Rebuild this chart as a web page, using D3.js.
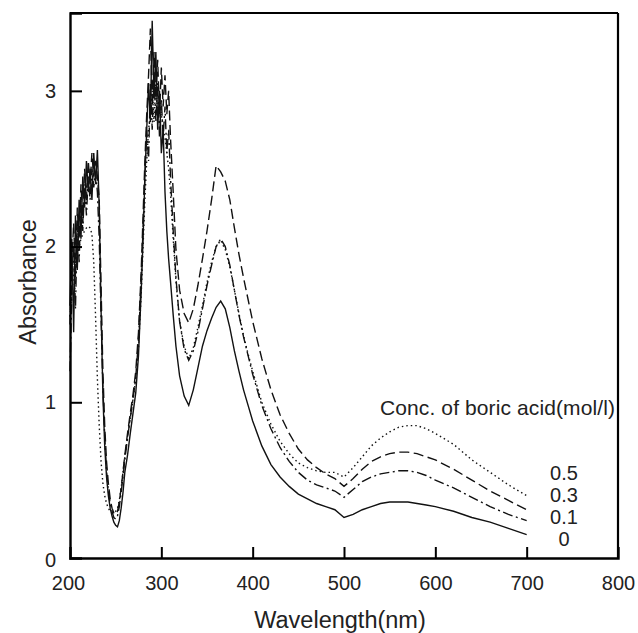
<!DOCTYPE html>
<html>
<head>
<meta charset="utf-8">
<script src="https://cdn.jsdelivr.net/npm/d3@7"></script>
<style>
  body { margin: 0; background: #fff; }
  svg { display: block; font-family: "Liberation Sans", Arial, sans-serif; }
</style>
</head>
<body>
<div id="chart"></div>
<script>
// wavelengths (nm) shared by all spectra
const wavelengths = [200,202,204,206,208,210,212,214,216,218,220,222,224,226,228,230,232,234,236,238,
  240,242,244,246,248,250,252,254,256,258,260,263,266,269,272,275,278,280,282,284,286,288,290,292,294,
  296,298,300,302,304,306,308,310,313,316,320,325,330,335,340,345,350,355,360,365,370,375,380,385,390,
  395,400,410,420,430,440,450,460,470,480,490,500,510,520,530,540,550,560,570,580,590,600,620,640,660,680,700];

// absorbance, 0 mol/l boric acid
const conc0 = [1.62,2.05,1.45,2.20,1.85,2.30,2.05,2.45,2.25,2.55,2.35,2.50,2.30,2.60,2.40,2.62,2.25,1.60,1.05,0.72,
  0.52,0.40,0.32,0.27,0.23,0.21,0.20,0.24,0.32,0.42,0.55,0.66,0.80,0.93,1.06,1.30,1.72,2.05,2.45,2.75,3.05,2.80,3.45,2.95,3.25,
  2.75,3.00,2.60,2.75,2.35,2.10,1.92,1.78,1.56,1.36,1.17,1.04,0.98,1.08,1.22,1.36,1.46,1.54,1.61,1.65,1.60,1.48,1.33,1.20,1.08,
  0.98,0.88,0.72,0.60,0.52,0.46,0.41,0.38,0.35,0.33,0.31,0.26,0.28,0.31,0.33,0.35,0.36,0.36,0.36,0.35,0.34,0.33,0.30,0.26,0.23,0.19,0.15];

// 0.1 mol/l
const conc01 = [1.20,1.70,2.00,1.60,2.15,1.90,2.30,2.10,2.40,2.20,2.45,2.30,2.50,2.38,2.48,2.35,2.05,1.55,1.10,0.78,
  0.56,0.43,0.35,0.30,0.26,0.25,0.27,0.33,0.42,0.52,0.63,0.77,0.90,1.02,1.16,1.40,1.80,2.12,2.45,2.75,2.55,3.05,2.75,3.10,2.80,
  3.05,2.70,2.95,2.70,2.90,2.60,2.75,2.45,2.10,1.80,1.52,1.34,1.27,1.33,1.45,1.60,1.75,1.88,2.00,2.05,2.00,1.88,1.72,1.56,1.42,
  1.30,1.18,0.98,0.83,0.71,0.62,0.55,0.50,0.47,0.45,0.43,0.39,0.44,0.49,0.52,0.54,0.55,0.56,0.56,0.55,0.53,0.50,0.45,0.39,0.33,0.28,0.24];

// 0.3 mol/l
const conc03 = [1.50,1.90,2.15,1.80,2.25,2.00,2.40,2.15,2.50,2.30,2.55,2.40,2.60,2.45,2.55,2.45,2.30,1.75,1.20,0.85,
  0.62,0.48,0.38,0.32,0.29,0.28,0.30,0.36,0.45,0.55,0.66,0.80,0.93,1.05,1.20,1.45,1.85,2.20,2.55,2.85,3.10,3.40,2.90,3.25,2.95,
  3.20,2.85,3.15,2.90,3.10,2.85,3.00,2.70,2.35,1.98,1.72,1.57,1.51,1.60,1.75,1.92,2.10,2.30,2.52,2.48,2.42,2.30,2.12,1.95,1.80,
  1.66,1.52,1.28,1.08,0.92,0.80,0.70,0.63,0.58,0.54,0.51,0.46,0.51,0.57,0.62,0.65,0.67,0.68,0.68,0.67,0.65,0.63,0.57,0.50,0.43,0.37,0.31];

// 0.5 mol/l
const conc05 = [1.55,1.70,1.82,1.90,1.95,2.00,2.05,2.08,2.10,2.12,2.13,2.12,2.08,1.90,1.55,1.15,0.85,0.62,0.48,0.40,
  0.35,0.32,0.30,0.29,0.29,0.30,0.32,0.37,0.45,0.55,0.65,0.78,0.90,1.02,1.15,1.35,1.70,2.00,2.30,2.55,2.75,2.85,3.00,2.80,3.05,
  2.85,2.95,2.85,2.75,2.70,2.60,2.50,2.35,2.05,1.78,1.52,1.36,1.28,1.35,1.48,1.62,1.77,1.90,2.00,2.04,1.98,1.87,1.72,1.57,1.43,
  1.31,1.20,1.00,0.86,0.75,0.67,0.61,0.58,0.56,0.55,0.55,0.52,0.58,0.65,0.72,0.77,0.81,0.84,0.85,0.85,0.83,0.80,0.73,0.63,0.55,0.47,0.40];

const seriesNames = ["0.5", "0.3", "0.1", "0"];
const seriesValues = [conc05, conc03, conc01, conc0];
const xTicks = [200, 300, 400, 500, 600, 700, 800];
const yTicks = [0, 1, 2, 3];
const legendTitle = "Conc. of boric acid(mol/l)";

const W = 638, H = 633;
const margin = { left: 70, top: 13, right: 20, bottom: 75 };
const x0 = margin.left, x1 = W - margin.right, y0 = H - margin.bottom, y1 = margin.top;

const svg = d3.select('#chart').append('svg').attr('width', W).attr('height', H);

const x = d3.scaleLinear().domain([200, 800]).range([x0, x1]);
const y = d3.scaleLinear().domain([0, 3.5]).range([y0, y1]);

// dash styles: dotted, dashed, dash-dot, solid
const dashes = ["1.5,3", "10,4.5", "10,3.5,2,3.5", null];

const line = d3.line()
  .x(d => x(d[0]))
  .y(d => y(d[1]));

const gLines = svg.append('g');
seriesValues.forEach((vals, i) => {
  const pts = wavelengths.map((w, k) => [w, vals[k]]);
  gLines.append('path')
    .datum(pts)
    .attr('fill', 'none')
    .attr('stroke', '#111')
    .attr('stroke-width', 1.4)
    .attr('stroke-dasharray', dashes[i])
    .attr('d', line);
});

// frame: top and right
svg.append('line').attr('x1', x0).attr('x2', x1).attr('y1', y1).attr('y2', y1)
  .attr('stroke', '#000').attr('stroke-width', 2.2);
svg.append('line').attr('x1', x1).attr('x2', x1).attr('y1', y1).attr('y2', y0)
  .attr('stroke', '#000').attr('stroke-width', 2.2);

// axes with inward ticks
const xAxis = d3.axisBottom(x).tickValues(xTicks).tickSize(-11).tickPadding(18).tickFormat(d3.format('d'));
const gx = svg.append('g').attr('transform', `translate(0,${y0})`).call(xAxis);
gx.select('.domain').attr('stroke-width', 2.4);
gx.selectAll('.tick line').attr('stroke-width', 2)
  .attr('display', d => (d === 200 || d === 800) ? 'none' : null);
gx.selectAll('.tick text').attr('font-size', 20).attr('fill', '#222');

const yAxis = d3.axisLeft(y).tickValues(yTicks).tickSize(-12).tickPadding(14).tickFormat(d3.format('d'));
const gy = svg.append('g').attr('transform', `translate(${x0},0)`).call(yAxis);
gy.select('.domain').attr('stroke-width', 2.4);
gy.selectAll('.tick line').attr('stroke-width', 2)
  .attr('display', d => d === 0 ? 'none' : null);
gy.selectAll('.tick text').attr('font-size', 20).attr('fill', '#222');
gy.selectAll('.tick').filter(d => d === 0).select('text').attr('dy', '0.42em');
gx.selectAll('.tick').filter(d => d === 200).select('text').attr('dx', '-0.1em');

svg.append('text')
  .attr('x', 340).attr('y', 628)
  .attr('text-anchor', 'middle').attr('font-size', 23.5).attr('fill', '#222')
  .text('Wavelength(nm)');

svg.append('text')
  .attr('transform', `translate(36,282) rotate(-90)`)
  .attr('text-anchor', 'middle').attr('font-size', 23.5).attr('fill', '#222')
  .text('Absorbance');

// legend
svg.append('text')
  .attr('x', 380).attr('y', 415)
  .attr('font-size', 21).attr('fill', '#222')
  .attr('textLength', 235)
  .text(legendTitle);

const labelY = [480, 502, 524, 546];
seriesNames.forEach((name, i) => {
  svg.append('text')
    .attr('x', 564).attr('y', labelY[i])
    .attr('text-anchor', 'middle')
    .attr('font-size', 20).attr('fill', '#222')
    .text(name);
});
</script>
</body>
</html>
